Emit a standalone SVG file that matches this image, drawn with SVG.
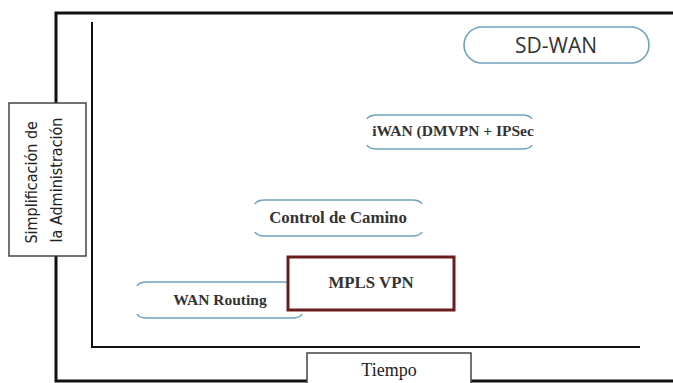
<svg xmlns="http://www.w3.org/2000/svg" width="673" height="383" viewBox="0 0 673 383">
<style>
.frame{fill:none;stroke:#111;stroke-width:3}
.axis{fill:none;stroke:#111;stroke-width:2}
.pill{fill:none;stroke:#6fa3bd;stroke-width:1.6}
.lbl{font-family:"Liberation Serif","DejaVu Serif",serif;font-weight:bold;font-size:15.5px;fill:#333;text-anchor:middle}
.box{fill:#fff;stroke:#444;stroke-width:1.5}
</style>
<rect width="673" height="383" fill="#fff"/>
<g id="frame">
<path class="frame" d="M675,13 L56,13 L56,381 L675,381"/>
</g>
<g id="axes">
<path class="axis" d="M92,22 L92,347 L640,347"/>
</g>
<g id="y-label">
<rect class="box" x="9" y="103" width="77" height="153"/>
<text font-family="'Liberation Sans Narrow','DejaVu Sans Condensed','Liberation Sans',sans-serif" font-size="16" fill="#222" text-anchor="middle" transform="translate(0,180) rotate(-90)">
<tspan x="0" y="37">Simplificación de</tspan>
<tspan x="0" y="62">la Administración</tspan>
</text>
</g>
<g id="x-label">
<rect class="box" x="307" y="353" width="164" height="35"/>
<text x="389" y="376" font-family="'Liberation Serif','DejaVu Serif',serif" font-size="18" fill="#222" text-anchor="middle">Tiempo</text>
</g>
<g id="sdwan">
<rect class="pill" x="464" y="27" width="185" height="36" rx="18"/>
<text x="556" y="53" font-family="'Open Sans','Noto Sans',sans-serif" font-size="21" fill="#333" text-anchor="middle">SD-WAN</text>
</g>
<g id="iwan">
<path class="pill" d="M367,119 Q369,115 377,115 L522,115 Q530,115 532,119 M367,145 Q369,149 377,149 L522,149 Q530,149 532,145"/>
<text class="lbl" x="453" y="136">iWAN (DMVPN + IPSec</text>
</g>
<g id="control">
<path class="pill" d="M255,204 Q257,200 265,200 L412,200 Q420,200 422,204 M255,232 Q257,236 265,236 L412,236 Q420,236 422,232"/>
<text class="lbl" x="338" y="223" style="font-size:16.8px">Control de Camino</text>
</g>
<g id="wanrouting">
<path class="pill" d="M137,286 Q139,282 147,282 L300,282 M137,314 Q139,318 147,318 L292,318 Q300,318 302,314"/>
<text class="lbl" x="220" y="305">WAN Routing</text>
</g>
<g id="mpls">
<rect x="288" y="257" width="166" height="53" fill="#fff" stroke="#6b1d1d" stroke-width="3"/>
<text class="lbl" x="371" y="288" style="font-size:16.8px">MPLS VPN</text>
</g>
</svg>
